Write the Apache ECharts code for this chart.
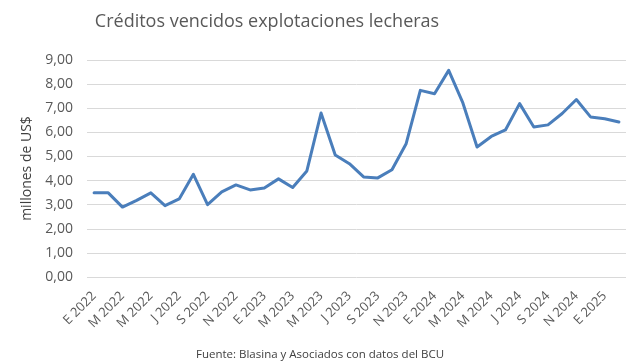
<!DOCTYPE html>
<html><head><meta charset="utf-8">
<script src="https://cdn.jsdelivr.net/npm/echarts@6/dist/echarts.min.js"></script>
<style>html,body{margin:0;padding:0;background:#fff}#c{width:641px;height:362px}</style>
</head><body><div id="c"></div>
<script>
var titleText = "Créditos vencidos explotaciones lecheras";
var sourceText = "Fuente: Blasina y Asociados con datos del BCU";
var yAxisName = "millones de US$";
var monthLetters = ["E","F","M","A","M","J","J","A","S","O","N","D"];
var years = [2022, 2023, 2024, 2025];
var values = [3.49,3.49,2.90,3.18,3.49,2.96,3.24,4.26,3.00,3.53,3.82,3.61,
              3.69,4.07,3.71,4.40,6.80,5.06,4.70,4.15,4.11,4.45,5.53,7.74,
              7.60,8.57,7.22,5.39,5.83,6.10,7.19,6.22,6.31,6.78,7.36,6.64,
              6.56,6.43];
var categories = values.map(function(v,i){
  return monthLetters[i%12] + " " + years[Math.floor(i/12)];
});
var font = "Open Sans";
var chart = echarts.init(document.getElementById('c'));
chart.setOption({
  animation:false,
  title:[
    {text:titleText,left:262,top:8,textAlign:'center',textStyle:{fontFamily:font,fontSize:18,fontWeight:'normal',color:'#595959'}},
    {text:sourceText,left:315,top:344,textAlign:'center',textStyle:{fontFamily:font,fontSize:11.5,fontWeight:'normal',color:'#404040'}}
  ],
  grid:{left:87,right:15,top:60,bottom:85,containLabel:false},
  xAxis:{type:'category',data:categories,boundaryGap:true,
    axisLine:{show:false},axisTick:{show:false},
    axisLabel:{interval:1,rotate:45,fontFamily:font,fontSize:13,color:'#595959',margin:17}},
  yAxis:{type:'value',min:0,max:9,interval:1,
    name:yAxisName,nameLocation:'middle',nameGap:49,nameRotate:90,
    nameTextStyle:{fontFamily:font,fontSize:14,color:'#404040'},
    axisLabel:{formatter:function(v){return v.toFixed(2).replace('.',',');},fontFamily:font,fontSize:14,color:'#595959',margin:14},
    splitLine:{lineStyle:{color:'#d9d9d9',width:1}},axisLine:{show:false},axisTick:{show:false}},
  series:[{type:'line',data:values,symbol:'none',lineStyle:{color:'#4a7ebb',width:3,join:'round',cap:'round'}}]
});
</script></body></html>
